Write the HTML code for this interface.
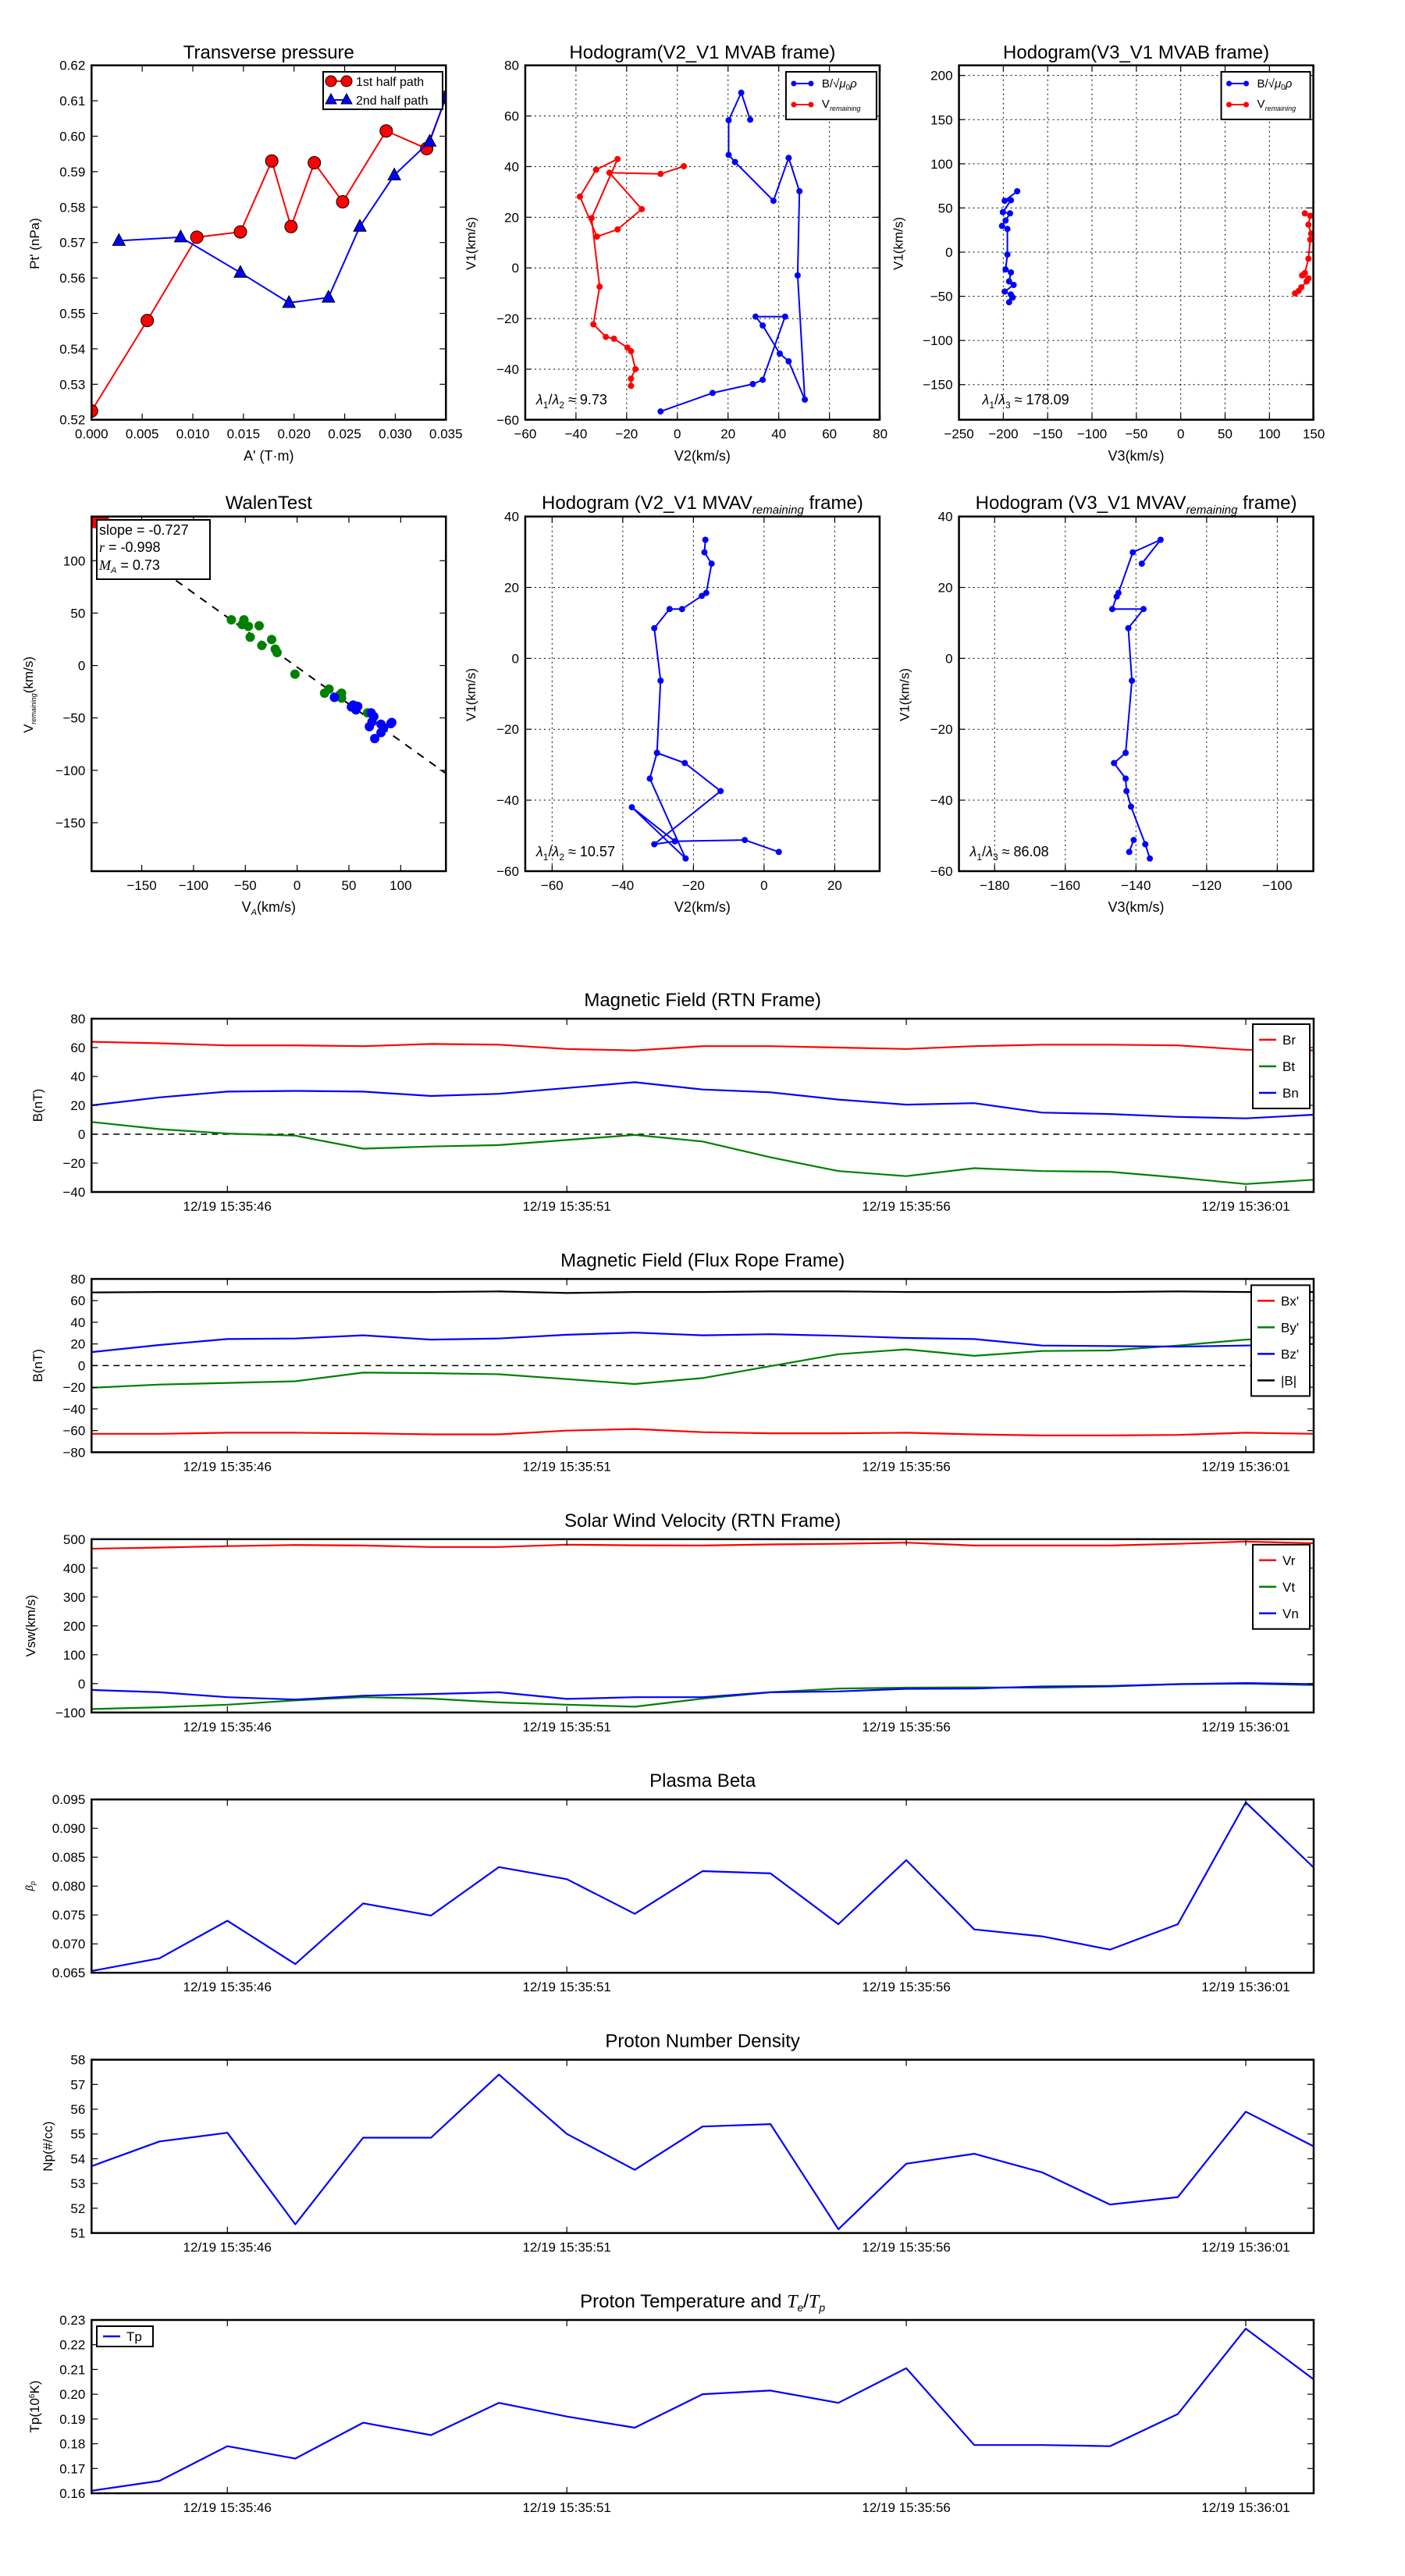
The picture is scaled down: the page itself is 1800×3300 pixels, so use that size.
<!DOCTYPE html>
<html><head><meta charset="utf-8"><style>
html,body{margin:0;padding:0;background:#fff}
svg{display:block}
text{font-family:"Liberation Sans",sans-serif}
</style></head><body>
<svg id="s" xmlns="http://www.w3.org/2000/svg" width="1800" height="3300" viewBox="0 0 1800 3300"></svg>
<script>
var S=document.getElementById('s');var out=[];
function P(s){out.push(s);}
function zx(x){return x*1.148+0.2;} function zy(y){return y*0.7646+1.1;}
function T(x,y,t,o){o=o||{};P('<text x="'+x+'" y="'+y+'" font-size="'+(o.fs||17)+'" text-anchor="'+(o.a||'middle')+'"'+(o.rot?' transform="rotate(-90 '+x+' '+y+')"':'')+(o.ff?' style="font-family:'+o.ff+'"':'')+'>'+t+'</text>');}
function frame(x0,y0,w,h){P('<rect x="'+x0+'" y="'+y0+'" width="'+w+'" height="'+h+'" fill="none" stroke="#000" stroke-width="2.5"/>');}
function yt(x0,w,y,lab,grid){P('<line x1="'+x0+'" y1="'+y+'" x2="'+(x0+8)+'" y2="'+y+'" stroke="#000" stroke-width="1.2"/><line x1="'+(x0+w-8)+'" y1="'+y+'" x2="'+(x0+w)+'" y2="'+y+'" stroke="#000" stroke-width="1.2"/>');
 if(grid)P('<line x1="'+x0+'" y1="'+y+'" x2="'+(x0+w)+'" y2="'+y+'" stroke="#000" stroke-width="1" stroke-dasharray="2,4"/>');
 T(x0-8,y+6,lab,{a:'end'});}
function xt(y0,h,x,lab,grid){P('<line x1="'+x+'" y1="'+y0+'" x2="'+x+'" y2="'+(y0+8)+'" stroke="#000" stroke-width="1.2"/><line x1="'+x+'" y1="'+(y0+h-8)+'" x2="'+x+'" y2="'+(y0+h)+'" stroke="#000" stroke-width="1.2"/>');
 if(grid)P('<line x1="'+x+'" y1="'+y0+'" x2="'+x+'" y2="'+(y0+h)+'" stroke="#000" stroke-width="1" stroke-dasharray="2,4"/>');
 T(x,y0+h+24,lab);}
function poly(pts,col,sw,extra){P('<polyline points="'+pts.map(function(p){return p[0].toFixed(1)+','+p[1].toFixed(1)}).join(' ')+'" fill="none" stroke="'+col+'" stroke-width="'+(sw||2)+'" stroke-linejoin="round" '+(extra||'')+'/>');}
function dots(pts,col,r){pts.forEach(function(p){P('<circle cx="'+p[0].toFixed(1)+'" cy="'+p[1].toFixed(1)+'" r="'+r+'" fill="'+col+'"/>');});}
function zp(a){var r=[];for(var i=0;i<a.length;i+=2)r.push([zx(a[i]),zy(a[i+1])]);return r;}

var PW=454;
/* ---------- Top row ---------- */
var TY0=83.7,TH=454;
(function(){var x0=117.3,w=PW;
 function X(v){return x0+v/0.035*w;} function Y(v){return TY0+TH-(v-0.52)/0.1*TH;}
 var red=[[0,.5225],[.0055,.548],[.0104,.5715],[.0147,.573],[.0178,.593],[.0197,.5745],[.0220,.5925],[.0248,.5815],[.0291,.6015],[.0331,.5965],[.035,.611]];
 var blue=[[.0027,.5705],[.0088,.5715],[.0147,.5615],[.0195,.553],[.0234,.5545],[.0265,.5745],[.0299,.589],[.0334,.5985],[.035,.611]];
 P('<defs><clipPath id="c1"><rect x="'+x0+'" y="'+TY0+'" width="'+w+'" height="'+TH+'"/></clipPath></defs><g clip-path="url(#c1)">');
 poly(red.map(function(p){return[X(p[0]),Y(p[1])]}),'#f00',2);
 red.forEach(function(p){P('<circle cx="'+X(p[0])+'" cy="'+Y(p[1])+'" r="8" fill="#f00" stroke="#000" stroke-width="1"/>');});
 poly(blue.map(function(p){return[X(p[0]),Y(p[1])]}),'#00f',2);
 blue.forEach(function(p){var x=X(p[0]),y=Y(p[1]);P('<polygon points="'+x+','+(y-9)+' '+(x-8)+','+(y+6)+' '+(x+8)+','+(y+6)+'" fill="#00f" stroke="#000" stroke-width="1"/>');});
 P('</g>');
 frame(x0,TY0,w,TH);
 for(var i=0;i<=10;i++){var v=0.52+i*0.01;yt(x0,w,Y(v),v.toFixed(2),false);}
 for(var i=0;i<=7;i++){var v=i*0.005;xt(TY0,TH,X(v),v.toFixed(3),false);}
 T(x0+w/2,75,'Transverse pressure',{fs:24});
 T(x0+w/2,590,"A' (T·m)",{fs:18});
 T(50,312,"Pt' (nPa)",{fs:17,rot:1});
 P('<rect x="414" y="92" width="153" height="48" fill="#fff" stroke="#000" stroke-width="2"/>');
 P('<line x1="422" y1="104" x2="446" y2="104" stroke="#f00" stroke-width="2"/><circle cx="424" cy="104" r="7" fill="#f00" stroke="#000"/><circle cx="444" cy="104" r="7" fill="#f00" stroke="#000"/>');
 T(456,110,'1st half path',{a:'start',fs:16});
 P('<line x1="422" y1="128" x2="446" y2="128" stroke="#00f" stroke-width="2"/><polygon points="424,120 417,133 431,133" fill="#00f" stroke="#000"/><polygon points="444,120 437,133 451,133" fill="#00f" stroke="#000"/>');
 T(456,134,'2nd half path',{a:'start',fs:16});
})();

function lam(x,y,a,b,val){P('<text x="'+x+'" y="'+y+'" font-size="18"><tspan font-style="italic">λ</tspan><tspan font-size="12" dy="5">1</tspan><tspan dy="-5">/</tspan><tspan font-style="italic">λ</tspan><tspan font-size="12" dy="5">'+b+'</tspan><tspan dy="-5"> ≈ '+val+'</tspan></text>');}

(function(){var x0=zx(586),w=PW;
 for(var v=-60;v<=80;v+=20){var yy=zy(702-(v+60)*4.243);yt(x0,w,yy,v<0?'−'+(-v):v,true);}
 for(var v=-60;v<=80;v+=20){var xx=zx(586+(v+60)*2.829);xt(TY0,TH,xx,v<0?'−'+(-v):v,true);}
 var blue=zp([837,199,827,154,813,200,813,258,820,270,863,335,880,263,892,319,890,460,898,668,880,604,870,591,851,544,843,529,876,529,851,635,840,642,795,657,737,688]);
 var red=zp([763,277,737,290,680,288,716,349,689,383,666,395,647,328,665,283,689,265,660,364,669,479,662,542,676,563,685,566,700,581,704,587,709,617,704,633,704,645]);
 poly(blue,'#00f',2);dots(blue,'#00f',4);poly(red,'#f00',2);dots(red,'#f00',4);
 frame(x0,TY0,w,TH);
 T(x0+w/2,75,'Hodogram(V2_V1 MVAB frame)',{fs:24});
 T(x0+w/2,590,'V2(km/s)',{fs:18});
 T(x0-64,312,'V1(km/s)',{fs:17,rot:1});
 lam(x0+14,518,1,2,'9.73');
 var lx=x0+w-120;
 P('<rect x="'+lx+'" y="92" width="116" height="61" fill="#fff" stroke="#000" stroke-width="2"/>');
 P('<line x1="'+(lx+8)+'" y1="107" x2="'+(lx+34)+'" y2="107" stroke="#00f" stroke-width="2"/><circle cx="'+(lx+10)+'" cy="107" r="3.5" fill="#00f"/><circle cx="'+(lx+32)+'" cy="107" r="3.5" fill="#00f"/>');
 P('<text x="'+(lx+46)+'" y="112" font-size="15">B/√<tspan font-style="italic">μ</tspan><tspan font-size="10" dy="3">0</tspan><tspan dy="-3" font-style="italic">ρ</tspan></text>');
 P('<line x1="'+(lx+8)+'" y1="134" x2="'+(lx+34)+'" y2="134" stroke="#f00" stroke-width="2"/><circle cx="'+(lx+10)+'" cy="134" r="3.5" fill="#f00"/><circle cx="'+(lx+32)+'" cy="134" r="3.5" fill="#f00"/>');
 P('<text x="'+(lx+46)+'" y="138" font-size="15">V<tspan font-size="9" font-style="italic" dy="4">remaining</tspan></text>');
})();

(function(){var x0=zx(1070),w=PW;
 for(var v=-150;v<=200;v+=50){var yy=zy(643-(v+150)*1.48);yt(x0,w,yy,v<0?'−'+(-v):v,true);}
 for(var v=-250;v<=150;v+=50){var xx=zx(1070+(v+250)*0.99);xt(TY0,TH,xx,v<0?'−'+(-v):v,true);}
 var blue=zp([1135,319,1121,335,1128,334,1119,354,1127,356,1122,368,1118,377,1124,382,1124,425,1122,450,1128,455,1126,470,1131,476,1121,487,1128,492,1126,505,1130,497]);
 var red=zp([1456,356,1462,360,1460,375,1463,390,1462,400,1460,432,1456,456,1453,460,1460,465,1458,470,1452,480,1449,486,1445,490]);
 poly(blue,'#00f',2);dots(blue,'#00f',4);poly(red,'#f00',2);dots(red,'#f00',4);
 frame(x0,TY0,w,TH);
 T(x0+w/2,75,'Hodogram(V3_V1 MVAB frame)',{fs:24});
 T(x0+w/2,590,'V3(km/s)',{fs:18});
 T(x0-72,312,'V1(km/s)',{fs:17,rot:1});
 lam(x0+30,518,1,3,'178.09');
 var lx=x0+w-118;
 P('<rect x="'+lx+'" y="92" width="114" height="61" fill="#fff" stroke="#000" stroke-width="2"/>');
 P('<line x1="'+(lx+8)+'" y1="107" x2="'+(lx+34)+'" y2="107" stroke="#00f" stroke-width="2"/><circle cx="'+(lx+10)+'" cy="107" r="3.5" fill="#00f"/><circle cx="'+(lx+32)+'" cy="107" r="3.5" fill="#00f"/>');
 P('<text x="'+(lx+46)+'" y="112" font-size="15">B/√<tspan font-style="italic">μ</tspan><tspan font-size="10" dy="3">0</tspan><tspan dy="-3" font-style="italic">ρ</tspan></text>');
 P('<line x1="'+(lx+8)+'" y1="134" x2="'+(lx+34)+'" y2="134" stroke="#f00" stroke-width="2"/><circle cx="'+(lx+10)+'" cy="134" r="3.5" fill="#f00"/><circle cx="'+(lx+32)+'" cy="134" r="3.5" fill="#f00"/>');
 P('<text x="'+(lx+46)+'" y="138" font-size="15">V<tspan font-size="9" font-style="italic" dy="4">remaining</tspan></text>');
})();

/* ---------- Row 2 ---------- */
var MY0=661.7,MH=454.3;
(function(){var x0=117.3,w=PW;
 for(var v=-150;v<=100;v+=50){var yy=zy(938+(100-v)*1.756);yt(x0,w,yy,v<0?'−'+(-v):v,false);}
 for(var v=-150;v<=100;v+=50){var xx=zx(158+(v+150)*1.156);xt(MY0,MH,xx,v<0?'−'+(-v):v,false);}
 P('<defs><clipPath id="c2"><rect x="'+x0+'" y="'+MY0+'" width="'+w+'" height="'+MH+'"/></clipPath></defs><g clip-path="url(#c2)">');
 P('<line x1="'+zx(102)+'" y1="'+zy(870)+'" x2="'+zx(497)+'" y2="'+zy(1294)+'" stroke="#000" stroke-width="2" stroke-dasharray="10,9"/>');
 P('<circle cx="123" cy="663" r="14" fill="#f00"/><circle cx="131" cy="669" r="10" fill="#f00"/>');
 dots(zp([258,1037,272,1037,270,1045,277,1048,289,1047,303,1070,279,1066,292,1080,307,1086,309,1092,329,1128,362,1160,367,1153,381,1160,381,1168,379,1163,410,1193]),'#008000',6);
 dots(zp([373,1167,392,1183,397,1188,394,1180,399,1182,414,1193,417,1199,415,1208,412,1216,425,1212,428,1218,436,1211,425,1226,418,1236,437,1209]),'#00f',6);
 P('</g>');
 frame(x0,MY0,w,MH);
 P('<rect x="124" y="666" width="145" height="76" fill="#fff" stroke="#000" stroke-width="2"/>');
 P('<text x="127" y="685" font-size="18">slope = -0.727</text>');
 P('<text x="127" y="707" font-size="18"><tspan font-style="italic" style="font-family:\'Liberation Serif\'">r</tspan> = -0.998</text>');
 P('<text x="127" y="730" font-size="18"><tspan font-style="italic" style="font-family:\'Liberation Serif\'">M</tspan><tspan font-size="11" dy="4" font-style="italic">A</tspan><tspan dy="-4"> = 0.73</tspan></text>');
 T(x0+w/2,652,'WalenTest',{fs:24});
 P('<text x="'+(x0+w/2)+'' +'" y="1168" font-size="18" text-anchor="middle">V<tspan font-size="11" font-style="italic" dy="4">A</tspan><tspan dy="-4">(km/s)</tspan></text>');
 P('<text x="42" y="890" font-size="17" text-anchor="middle" transform="rotate(-90 42 890)">V<tspan font-size="9" font-style="italic" dy="4">remaining</tspan><tspan dy="-4">(km/s)</tspan></text>');
})();
function hod2(x0,xmin,ticks,path,extra,title,xl,lamb,lx){var w=PW,pxu=w/100.3;
 for(var v=-60;v<=40;v+=20){var yy=zy(864+(40-v)*5.94);yt(x0,w,yy,v<0?'−'+(-v):v,true);}
 ticks.forEach(function(v){var xx=x0+(v-xmin)*pxu;xt(MY0,MH,xx,v<0?'−'+(-v):v,true);});
 var p=zp(path);poly(p,'#00f',2);dots(p,'#00f',4);
 if(extra){var q=zp(extra);poly(q,'#00f',2);dots(q,'#00f',4);}
 frame(x0,MY0,w,MH);
 P('<text x="'+(x0+w/2)+'" y="652" font-size="24" text-anchor="middle">'+title+' (V'+xl+'_V1 MVAV<tspan font-size="15" font-style="italic" dy="6">remaining</tspan><tspan dy="-6"> frame)</tspan></text>');
 T(x0+w/2,1168,'V'+xl+'(km/s)',{fs:18});
 T(x0-64,890,'V1(km/s)',{fs:17,rot:1});
 lam(x0+14,1097,1,lamb,lx);
}
hod2(zx(586),-67.6,[-60,-40,-20,0,20],[787,903,786,924,794,943,788,992,783,997,761,1019,747,1019,730,1051,737,1139,733,1260,725,1303,765,1437,705,1351,753,1408,831,1406,869,1426],[733,1260,764,1277,804,1324,730,1413,753,1408],'Hodogram','2',2,'10.57');
hod2(zx(1070),-190.1,[-180,-160,-140,-120,-100],[1274,943,1295,903,1264,924,1248,992,1246,998,1241,1019,1276,1019,1259,1051,1263,1139,1256,1260,1243,1277,1256,1303,1257,1324,1262,1350,1278,1413,1283,1437],[1265,1406,1260,1426],'Hodogram','3',3,'86.08');

/* ---------- Time series ---------- */
var TX0=117.3,TW=1565.7,TSH=222,DX=TW/18;
function tx(i){return TX0+i*DX;}
function ts(y0,ymin,ymax,ticks,fmt,series,title,ylab,zero){
 function Y(v){return y0+TSH-(v-ymin)/(ymax-ymin)*TSH;}
 var id='t'+Math.round(y0);
 P('<defs><clipPath id="'+id+'"><rect x="'+TX0+'" y="'+y0+'" width="'+TW+'" height="'+TSH+'"/></clipPath></defs>');
 if(zero)P('<line x1="'+TX0+'" y1="'+Y(0)+'" x2="'+(TX0+TW)+'" y2="'+Y(0)+'" stroke="#000" stroke-width="1.5" stroke-dasharray="8,6"/>');
 P('<g clip-path="url(#'+id+')">');
 series.forEach(function(s){poly(s.d.map(function(v,i){return[tx(i),Y(v)]}),s.c,2.2);});
 P('</g>');
 frame(TX0,y0,TW,TSH);
 ticks.forEach(function(v){yt(TX0,TW,Y(v),fmt(v),false);});
 ['12/19 15:35:46','12/19 15:35:51','12/19 15:35:56','12/19 15:36:01'].forEach(function(l,k){xt(y0,TSH,tx(2+5*k),l,false);});
 if(title)T(TX0+TW/2,y0-16,title,{fs:24});
 P(ylab);
}
function rng(a,b,s){var r=[];for(var v=a;v<=b+1e-9;v+=s)r.push(v);return r;}
function neg(v){return v<0?'−'+(-v):''+v;}
function leg(x,y,w,items){var h=items.length*34+6;P('<rect x="'+x+'" y="'+y+'" width="'+w+'" height="'+h+'" fill="#fff" stroke="#000" stroke-width="2"/>');
 items.forEach(function(it,k){var yy=y+20+k*34;P('<line x1="'+(x+8)+'" y1="'+yy+'" x2="'+(x+30)+'" y2="'+yy+'" stroke="'+it[1]+'" stroke-width="2.5"/>');T(x+38,yy+6,it[0],{a:'start',fs:17});});}
function yl(x,y0,t){return '<text x="'+x+'" y="'+(y0+111)+'" font-size="17" text-anchor="middle" transform="rotate(-90 '+x+' '+(y0+111)+')">'+t+'</text>';}

var SP=333.4,Y0=1305;
var y1=Y0;
ts(y1,-40,80,rng(-40,80,20),neg,[
 {c:'#f00',d:[64,63,61.5,61.5,61,62.5,62,59,58,61,61,60,59,61,62,62,61.5,58.5,58]},
 {c:'#008000',d:[8.5,3.5,0.5,-1,-10,-8.5,-7.5,-4,-0.5,-5,-16,-25.5,-29,-23.5,-25.5,-26,-30,-34.5,-31.5]},
 {c:'#00f',d:[20,25.5,29.5,30,29.5,26.5,28,32,36,31,29,24,20.5,21.5,15,14,12,11,13.5]}],
 'Magnetic Field (RTN Frame)',yl(54,y1,'B(nT)'),true);
leg(1605,y1+7,73,[['Br','#f00'],['Bt','#008000'],['Bn','#00f']]);

var y2=Y0+SP;
ts(y2,-80,80,rng(-80,80,20),neg,[
 {c:'#f00',d:[-63,-63,-62,-62,-62.5,-63.5,-63.5,-60,-58.5,-61.5,-62.5,-62.5,-62,-63.5,-64.5,-64.5,-64,-62,-63]},
 {c:'#008000',d:[-20.5,-17.5,-16,-14.5,-6.5,-7,-8,-12.5,-17,-11.5,-0.5,10.5,15,9,13.5,14,18.5,24,26]},
 {c:'#00f',d:[12.5,19,24.5,25,28,24,25,28.5,30.5,28,29,27.5,25.5,24.5,18.5,18,17.5,18.5,20]},
 {c:'#000',d:[67.5,68,68,68,68,68,68.5,67,68,68,68.5,68.5,68,68,68,68,68.5,68,68]}],
 'Magnetic Field (Flux Rope Frame)',yl(54,y2,'B(nT)'),true);
leg(1603,y2+8,75,[["Bx'",'#f00'],["By'",'#008000'],["Bz'",'#00f'],['|B|','#000']]);

var y3=Y0+2*SP;
ts(y3,-100,500,rng(-100,500,100),neg,[
 {c:'#f00',d:[467,471,476,480,478,473,473,481,479,478,482,484,488,478,478,478,484,492,486]},
 {c:'#008000',d:[-88,-82,-73,-58,-47,-52,-65,-73,-80,-52,-30,-17,-14,-13,-14,-10,-2,0,-5]},
 {c:'#00f',d:[-22,-30,-47,-55,-42,-36,-30,-53,-47,-47,-30,-27,-18,-17,-10,-8,-2,2,-2]}],
 'Solar Wind Velocity (RTN Frame)',yl(45,y3,'Vsw(km/s)'),false);
leg(1605,y3+7,73,[['Vr','#f00'],['Vt','#008000'],['Vn','#00f']]);

var y4=Y0+3*SP;
ts(y4,0.065,0.095,rng(0.065,0.095,0.005),function(v){return v.toFixed(3)},[
 {c:'#00f',d:[.0653,.0675,.0740,.0665,.0770,.0749,.0833,.0812,.0752,.0826,.0822,.0734,.0845,.0725,.0713,.0690,.0734,.0945,.0832]}],
 'Plasma Beta','<text x="42" y="'+(y4+111)+'" font-size="13" text-anchor="middle" font-style="italic" transform="rotate(-90 42 '+(y4+111)+')">β<tspan font-size="9" dy="3">p</tspan></text>',false);

var y5=Y0+4*SP;
ts(y5,51,58,rng(51,58,1),function(v){return ''+Math.round(v)},[
 {c:'#00f',d:[53.7,54.7,55.05,51.35,54.85,54.85,57.4,55.0,53.55,55.3,55.4,51.15,53.8,54.2,53.45,52.15,52.45,55.9,54.5]}],
 'Proton Number Density',yl(67,y5,'Np(#/cc)'),false);

var y6=Y0+5*SP;
ts(y6,0.16,0.23,rng(0.16,0.23,0.01),function(v){return v.toFixed(2)},[
 {c:'#00f',d:[.161,.165,.179,.174,.1885,.1835,.1965,.191,.1865,.200,.2015,.1965,.2105,.1795,.1795,.179,.192,.2265,.206]}],
 '',yl(50,y6,'Tp(10<tspan font-size="10" dy="-6">6</tspan><tspan dy="6">K)</tspan>'),false);
P('<text x="'+(TX0+TW/2)+'" y="'+(y6-16)+'" font-size="24" text-anchor="middle">Proton Temperature and <tspan font-style="italic" style="font-family:\'Liberation Serif\'">T</tspan><tspan font-size="14" font-style="italic" dy="5">e</tspan><tspan dy="-5">/</tspan><tspan font-style="italic" style="font-family:\'Liberation Serif\'">T</tspan><tspan font-size="14" font-style="italic" dy="5">p</tspan></text>');
P('<rect x="124" y="'+(y6+8)+'" width="72" height="26" fill="#fff" stroke="#000" stroke-width="2"/><line x1="132" y1="'+(y6+21)+'" x2="154" y2="'+(y6+21)+'" stroke="#00f" stroke-width="2.5"/>');
T(162,y6+27,'Tp',{a:'start',fs:17});

S.innerHTML=out.join('');
</script>
</body></html>
